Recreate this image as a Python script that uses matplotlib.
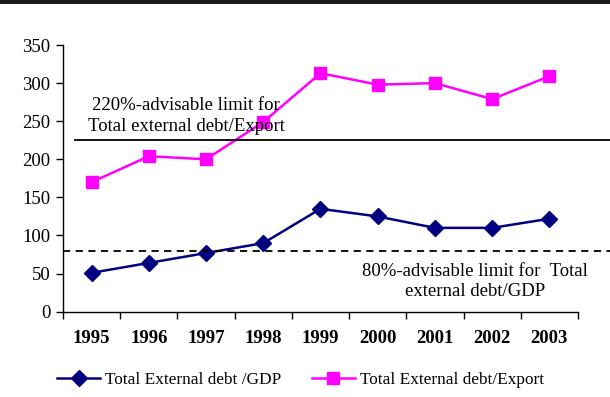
import matplotlib
matplotlib.use("Agg")
import matplotlib.pyplot as plt
from matplotlib.patches import Rectangle

years = ["1995", "1996", "1997", "1998", "1999", "2000", "2001", "2002", "2003"]
debt_gdp = [51, 64, 77, 90, 135, 125, 110, 110, 122]
debt_export = [170, 204, 200, 249, 313, 298, 300, 279, 309]
limit_export = 225
limit_gdp = 79
y_ticks = [0, 50, 100, 150, 200, 250, 300, 350]

plt.rcParams["font.family"] = ["Liberation Serif", "DejaVu Serif"]

fig = plt.figure(figsize=(6.10, 3.97), dpi=100)
ax = fig.add_axes([0.1033, 0.2149, 0.8442, 0.6717])

x = list(range(len(years)))
ax.plot(x, debt_gdp, color="#000080", lw=1.8, marker="D", ms=8,
        label="Total External debt /GDP", clip_on=False)
ax.plot(x, debt_export, color="#FF00FF", lw=1.8, marker="s", ms=9,
        label="Total External debt/Export", clip_on=False)

ax.axhline(limit_export, xmin=0.023, xmax=1.07, color="black", lw=1.3, clip_on=False)
ax.axhline(limit_gdp, xmin=0.0, xmax=1.07, color="black", lw=1.3,
           ls=(0, (4, 3)), clip_on=False)

ax.text(1.65, 257, "220%-advisable limit for\nTotal external debt/Export",
        ha="center", va="center", fontsize=13.5, linespacing=1.25)
ax.text(6.7, 40, "80%-advisable limit for  Total\nexternal debt/GDP",
        ha="center", va="center", fontsize=13.5, linespacing=1.25)

ax.set_xlim(-0.5, len(years) - 0.5)
ax.set_ylim(0, 350)
ax.set_yticks(y_ticks)
ax.set_yticklabels([str(v) for v in y_ticks], fontsize=13.5)
ax.set_xticks([i - 0.5 for i in range(len(years) + 1)])
ax.set_xticklabels([])
ax.set_xticks(x, minor=True)
ax.set_xticklabels(years, minor=True, fontsize=13.5, fontweight="bold")
ax.tick_params(axis="x", which="major", direction="out", length=5, width=1)
ax.tick_params(axis="x", which="minor", length=0, pad=13)
ax.tick_params(axis="y", direction="out", length=5, width=1, pad=4)
for side in ("top", "right"):
    ax.spines[side].set_visible(False)
for side in ("left", "bottom"):
    ax.spines[side].set_linewidth(1)

fig.legend(loc="center", bbox_to_anchor=(0.493, 0.043), ncol=2, frameon=False,
           fontsize=12.4, handlelength=2.5, handletextpad=0.3, columnspacing=1.75)

fig.add_artist(Rectangle((0, 0.99), 1, 0.01, transform=fig.transFigure,
                         color="#1a1a1a", lw=0))

fig.savefig("out.png", dpi=100)
